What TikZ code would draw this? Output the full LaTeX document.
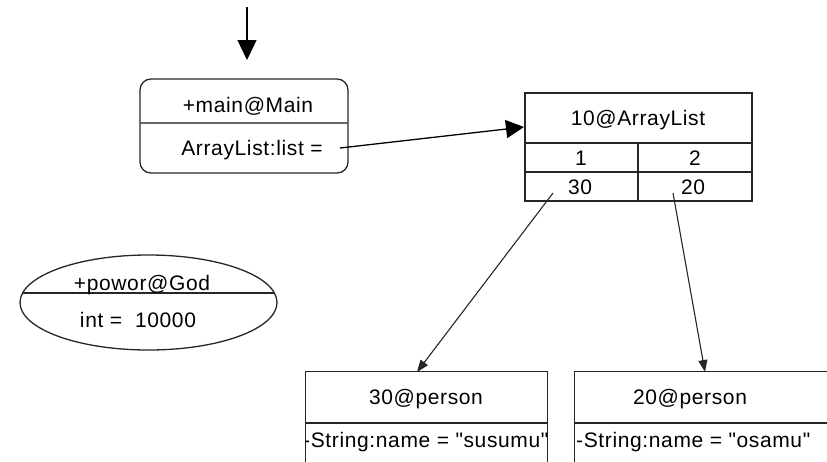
\documentclass[tikz,border=0pt]{standalone}
\usepackage{fontspec}
\setmainfont{Liberation Sans}[LetterSpace=3, Ligatures=TeXOff]
\usetikzlibrary{shapes.geometric,arrows.meta}
\begin{document}
\begin{tikzpicture}[x=1pt,y=-1pt,
  lbl/.style={font=\fontsize{21}{25}\selectfont, inner sep=0pt, anchor=center},
  frame/.style={draw=black!85, line width=1.3pt},
  rule/.style={draw=black!85, line width=1.5pt},
  bigarrow/.style={draw=black, line width=1.3pt, -{Triangle[length=20pt,width=19pt]}},
  ptr/.style={draw=black!85, line width=1.1pt, -{Triangle[length=12pt,width=9pt]}}]
\useasboundingbox (0,0) rectangle (827,461);
\clip (0,0) rectangle (827,461);

% stack frame of main
\node[frame, rounded corners=11pt, minimum width=208pt, minimum height=94pt, inner sep=0pt]
  (main) at (244,126) {};
\draw[draw=black!60, line width=2pt] (main.west |- 0,123) -- (main.east |- 0,123);
\node[lbl] (mainname) at (248,106) {+main@Main};
\node[lbl] (listfield) at (252,150) {ArrayList:list =};

% entry arrow
\coordinate (entry) at (247,7);
\coordinate (entryend) at (247,60);
\draw[bigarrow] (entry) -- (entryend);

% the ArrayList object
\node[frame, minimum width=227pt, minimum height=108pt, inner sep=0pt] (alist) at (638.5,147) {};
\draw[rule] (alist.west |- 0,143) -- (alist.east |- 0,143);
\draw[rule] (alist.west |- 0,172) -- (alist.east |- 0,172);
\draw[rule] (638,143) -- (alist.south -| 638,0);
\node[lbl] (alistname) at (638,120) {10@ArrayList};
\node[lbl] (idx1) at (581,158) {1};
\node[lbl] (idx2) at (695,158) {2};
\node[lbl] (c30) at (580,187) {30};
\node[lbl] (c20) at (693,187) {20};

% reference from main to the list
\coordinate (listref) at (340,148);
\coordinate (listin) at (524,127);
\draw[bigarrow, -{Triangle[length=18pt,width=18pt]}] (listref) -- (listin);

% person objects
\node[frame, minimum width=242pt, minimum height=120pt, inner sep=0pt, anchor=north west]
  (p30) at (305,371) {};
\draw[rule] (p30.west |- 0,423) -- (p30.east |- 0,423);
\node[lbl] (p30name) at (426,399) {30@person};
\begin{scope}
  \clip (p30.north west) rectangle (p30.south east);
  \node[lbl, anchor=west] (p30field) at (303,442) {-String:name = "susumu"};
\end{scope}

\node[frame, minimum width=266pt, minimum height=120pt, inner sep=0pt, anchor=north west]
  (p20) at (574,371) {};
\draw[rule] (p20.west |- 0,423) -- (p20.east |- 0,423);
\node[lbl] (p20name) at (690,399) {20@person};
\node[lbl, anchor=west] (p20field) at (576,442) {-String:name = "osamu"};

% element references
\coordinate (e30) at (553,193);
\coordinate (e20) at (673,193);
\coordinate (t30) at (417,372);
\coordinate (t20) at (705,372);
\draw[ptr] (e30) -- (t30);
\draw[ptr] (e20) -- (t20);

% the God object
\node[draw=black!85, line width=1.3pt, ellipse, minimum width=257pt, minimum height=95pt, inner sep=0pt]
  (god) at (148.5,302.5) {};
\draw[rule] (22.6,293) -- (274.4,293);
\node[lbl] (godname) at (142,285) {+powor@God};
\node[lbl] (godfield) at (138,320) {int =\ \ 10000};
\end{tikzpicture}
\end{document}
